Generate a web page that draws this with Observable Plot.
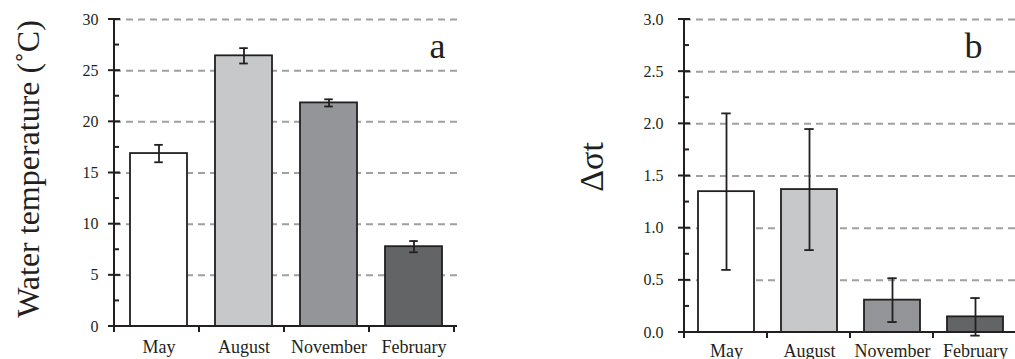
<!DOCTYPE html>
<html>
<head>
<meta charset="utf-8">
<script src="https://cdn.jsdelivr.net/npm/d3@7"></script>
<script src="https://cdn.jsdelivr.net/npm/@observablehq/plot@0.6"></script>
<style>
  html, body { margin: 0; padding: 0; background: #fff; }
  #wrap { position: relative; width: 1015px; height: 359px; overflow: hidden; background: #fff; }
  #wrap svg { position: absolute; top: 0; }
</style>
</head>
<body>
<div id="wrap"></div>
<script>
// ---- data ----
const months = ["May", "August", "November", "February"];
const fills = ["#ffffff", "#c7c8ca", "#939598", "#636466"];
const tempMean = [16.9, 26.45, 21.85, 7.8];
const tempErr = [0.85, 0.75, 0.35, 0.55];
const dsigMean = [1.35, 1.37, 0.31, 0.15];
const dsigErr = [0.75, 0.58, 0.21, 0.18];
const tempTicks = [0, 5, 10, 15, 20, 25, 30];
const tempMinor = [2.5, 7.5, 12.5, 17.5, 22.5, 27.5];
const dsigTicks = [0, 0.5, 1.0, 1.5, 2.0, 2.5, 3.0];
const dsigMinor = [0.25, 0.75, 1.25, 1.75, 2.25, 2.75];

const INK = "#231f20";
const GRID = "#a0a0a0";
const PI = 0.33;

// pick the first serif font that is actually installed
const candidates = ["Liberation Serif", "Times New Roman", "Tinos", "DejaVu Serif", "Noto Serif", "FreeSerif"];
const ctx = document.createElement("canvas").getContext("2d");
function w(f) { ctx.font = "40px " + f; return ctx.measureText("Water temperature Mmwil 0123").width; }
const base1 = w("monospace"), base2 = w("sans-serif");
const found = candidates.filter(c => w(`'${c}', monospace`) !== base1 || w(`'${c}', sans-serif`) !== base2);
const SERIF = (found.length ? `'${found[0]}', ` : "") + "serif";

const css = document.createElement("style");
css.textContent = `#wrap svg text { font-family: ${SERIF}; }
#wrap g[aria-label="y-axis tick label"] { font-size: 16px; }
#wrap g[aria-label="x-axis tick label"] { font-size: 18px; }`;
document.head.append(css);

function panel(o) {
  const data = months.map((m, i) => ({month: m, value: o.mean[i], err: o.err[i]}));
  const step = (o.width - o.ml - o.mr) / months.length;
  const bw = step * (1 - PI);
  const capInset = (bw - 9) / 2;
  const chart = Plot.plot({
    width: o.width,
    height: 359,
    marginLeft: o.ml,
    marginRight: o.mr,
    marginTop: o.mt,
    marginBottom: o.mb,
    style: {fontFamily: SERIF, fontSize: "16px", color: INK, background: "transparent", overflow: "visible"},
    x: {domain: months, paddingInner: PI, paddingOuter: PI / 2, label: null},
    y: {domain: o.domain, label: null},
    color: {domain: months, range: fills},
    marks: [
      Plot.gridY(o.ticks.filter(t => t !== 0), {stroke: GRID, strokeOpacity: 1, strokeWidth: 2, strokeDasharray: "7,5"}),
      Plot.barY(data, {x: "month", y: "value", fill: "month", stroke: INK, strokeWidth: 1.8}),
      Plot.ruleX(data, {x: "month", y1: d => d.value - d.err, y2: d => d.value + d.err, stroke: INK, strokeWidth: 1.8}),
      Plot.tickY(data, {x: "month", y: d => d.value - d.err, stroke: INK, strokeWidth: 1.8, insetLeft: capInset, insetRight: capInset}),
      Plot.tickY(data, {x: "month", y: d => d.value + d.err, stroke: INK, strokeWidth: 1.8, insetLeft: capInset, insetRight: capInset}),
      Plot.axisY({ticks: o.ticks, tickFormat: o.format, tickSize: 0, tickPadding: o.tickPad, fontSize: 16, fill: INK}),
      Plot.axisX({tickSize: 0, tickPadding: o.xPad, fontSize: 18, fill: INK}),
      Plot.text([o.ylabel], {frameAnchor: "left", textAnchor: "middle", lineAnchor: "middle", dx: o.labelDx, dy: o.labelDy, rotate: -90, fontSize: o.labelSize, fontFamily: SERIF, fill: INK}),
      Plot.text([o.letter], {frameAnchor: "top-right", textAnchor: "end", lineAnchor: "bottom", dx: o.letterDx, dy: 38, fontSize: 36, fontFamily: SERIF, fill: INK})
    ]
  });
  // axis lines and tick marks, positioned through the chart's scales
  const x = chart.scale("x"), y = chart.scale("y");
  const svg = d3.select(chart);
  const g = svg.append("g").attr("stroke", INK).attr("stroke-width", 2).attr("fill", "none");
  const x0 = x.range[0], x1 = x.range[1];
  const y0 = y.apply(o.domain[0]), yTop = y.apply(o.domain[1]);
  g.append("line").attr("x1", x0).attr("x2", x0).attr("y1", yTop - 1).attr("y2", y0 + 6);
  g.append("line").attr("x1", x0).attr("x2", x1).attr("y1", y0).attr("y2", y0);
  for (const t of o.ticks) g.append("line").attr("x1", x0 - 6).attr("x2", x0 + 6).attr("y1", y.apply(t)).attr("y2", y.apply(t));
  for (const t of o.minor) g.append("line").attr("x1", x0).attr("x2", x0 + 5).attr("y1", y.apply(t)).attr("y2", y.apply(t));
  for (let i = 0; i <= months.length; i++) {
    const bx = x0 + i * x.step;
    g.append("line").attr("x1", bx).attr("x2", bx).attr("y1", y0).attr("y2", y0 + 6);
  }
  chart.style.left = o.left + "px";
  return chart;
}

const wrap = document.getElementById("wrap");
wrap.append(panel({
  left: 0, width: 490, ml: 114, mr: 33, mt: 19, mb: 33,
  mean: tempMean, err: tempErr, domain: [0, 30], ticks: tempTicks, minor: tempMinor,
  format: d3.format("d"), tickPad: 16, xPad: 14,
  ylabel: "Water temperature (˚C)", labelDx: -86, labelDy: -4, labelSize: 32,
  letter: "a", letterDx: -12
}));
wrap.append(panel({
  left: 490, width: 530, ml: 194, mr: 4, mt: 19, mb: 27,
  mean: dsigMean, err: dsigErr, domain: [0, 3], ticks: dsigTicks, minor: dsigMinor,
  format: d3.format(".1f"), tickPad: 21, xPad: 12,
  ylabel: "Δσt", labelDx: -92, labelDy: -9, labelSize: 34,
  letter: "b", letterDx: -34
}));
</script>
</body>
</html>
